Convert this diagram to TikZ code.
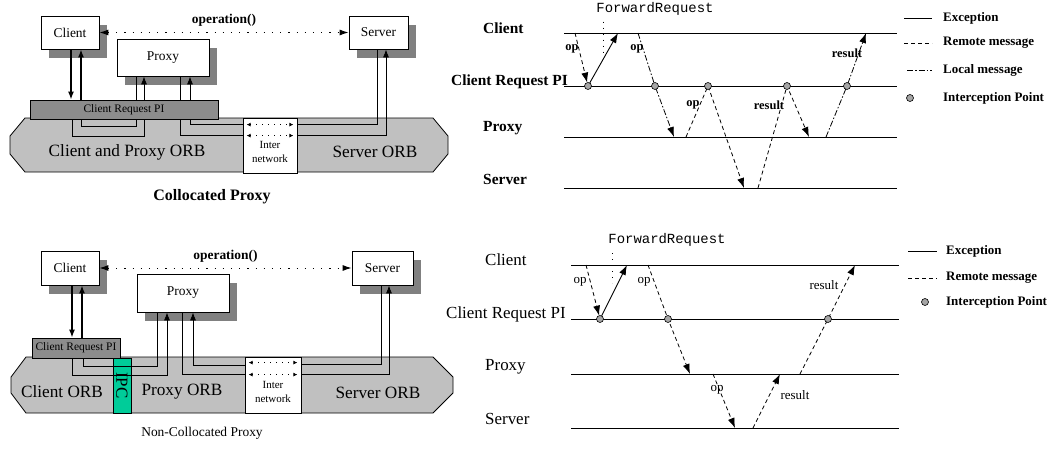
\documentclass[tikz,border=0pt]{standalone}
\usepackage{fontspec}
\setmainfont{Liberation Serif}
\setmonofont{Liberation Mono}
\usetikzlibrary{arrows.meta,shadows}
\definecolor{ipcgreen}{RGB}{0,204,153}
\definecolor{shade}{RGB}{128,128,128}
\definecolor{orbgray}{RGB}{192,192,192}
\definecolor{pigray}{RGB}{140,140,140}
\definecolor{ipgray}{RGB}{165,165,165}

\tikzset{
  box/.style={draw,fill=white,line width=0.8bp,inner sep=0pt,font=\fontsize{13.5}{15}\selectfont,
    drop shadow={shadow xshift=8bp,shadow yshift=-9bp,fill=shade,opacity=1}},
  pibar/.style={draw,fill=pigray,line width=0.8bp,inner sep=0pt,font=\fontsize{11.5}{13}\selectfont},
  orb/.style={draw,fill=orbgray,line width=0.8bp},
  netbox/.style={draw,fill=white,line width=0.8bp,inner sep=0pt},
  ipcbox/.style={draw,fill=ipcgreen,line width=0.8bp,inner sep=0pt,font=\fontsize{17}{19}\selectfont},
  orbtext/.style={font=\fontsize{17.3}{19}\selectfont},
  nettext/.style={align=center,inner sep=0pt,font=\fontsize{11}{14}\selectfont},
  optext/.style={font=\bfseries\fontsize{13.5}{15}\selectfont},
  tip/.style={-{Latex[length=8bp,width=6bp]}},
  seqtip/.style={-{Latex[length=10bp,width=7bp]}},
  link/.style={line width=0.8bp},
  heavy link/.style={line width=1.3bp},
  netarr/.style={{Latex[length=4bp,width=4bp]}-{Latex[length=4bp,width=4bp]},dash pattern=on 1bp off 5bp,line width=0.8bp},
  oparr/.style={{Latex[length=9bp,width=6bp]}-{Latex[length=9bp,width=6bp]},dash pattern=on 1.2bp off 7bp,line width=1bp},
  life/.style={line width=0.9bp},
  remote/.style={dash pattern=on 4bp off 3bp,line width=0.8bp},
  local/.style={dash pattern=on 6bp off 2bp on 1.5bp off 2bp,line width=0.8bp},
  exc/.style={line width=0.9bp},
  fwd/.style={dash pattern=on 1bp off 5bp,line width=0.9bp},
  ipt/.style={circle,draw,fill=ipgray,line width=0.6bp,inner sep=0pt,minimum size=7bp},
  seqname/.style={anchor=base west,inner sep=0pt},
  legtext/.style={anchor=west,inner sep=0pt,font=\bfseries\fontsize{13}{15}\selectfont},
  msgtop/.style={inner sep=0pt,font=\bfseries\fontsize{12.5}{14}\selectfont},
  msgbot/.style={inner sep=0pt,font=\fontsize{13}{15}\selectfont},
  fwdtext/.style={inner sep=0pt,font=\ttfamily\fontsize{14}{16}\selectfont},
}

\begin{document}
\begin{tikzpicture}
\useasboundingbox (0bp,0bp) rectangle (1053bp,-454bp);

% collocated proxy
\draw[orb] (25bp,-118bp) -- (433bp,-118bp) -- (448bp,-136bp) -- (448bp,-154bp) -- (433bp,-172bp) -- (25bp,-172bp) -- (10bp,-154bp) -- (10bp,-136bp) -- cycle;
\node (net1) at (270bp,-145.5bp)[netbox,minimum width=54bp,minimum height=55bp] {};
\node (pi1) at (124bp,-109.5bp)[pibar,minimum width=188bp,minimum height=19bp] {Client Request PI};
\node (client1) at (70bp,-32.5bp)[box,minimum width=58bp,minimum height=33bp] {Client};
\node (proxy1) at (163bp,-57.5bp)[box,minimum width=92bp,minimum height=37bp] {Proxy};
\node (server1) at (378.5bp,-32.5bp)[box,minimum width=59bp,minimum height=33bp] {Server};
\node (orb1a) at (127bp,-152bp)[orbtext] {Client and Proxy ORB};
\node (orb1b) at (375bp,-152bp)[orbtext] {Server ORB};
\node (net1t) at (270bp,-152bp)[nettext] {Inter\\network};
\node (cap1) at (212bp,-197bp)[font=\bfseries\fontsize{16}{18}\selectfont] {Collocated Proxy};
\draw [netarr] ([shift={(4bp,-7bp)}]net1.north west) -- ([shift={(-4bp,-7bp)}]net1.north east);
\draw [netarr] ([shift={(4bp,-18bp)}]net1.north west) -- ([shift={(-4bp,-18bp)}]net1.north east);
\draw [oparr] (client1.east) -- node[above=2bp,optext] {operation()} (server1.west);
\draw [heavy link,tip] (71bp,0 |- client1.south) -- (71bp,0 |- pi1.north);
\draw [heavy link,tip] (81bp,0 |- pi1.north) -- (81bp,0 |- client1.south);
\draw [link] (136bp,0 |- proxy1.south) -- (136bp,0 |- pi1.north);
\draw [link,tip] (144bp,0 |- pi1.north) -- (144bp,0 |- proxy1.south);
\draw [link] (180bp,0 |- proxy1.south) -- (180bp,0 |- pi1.north);
\draw [link,tip] (190bp,0 |- pi1.north) -- (190bp,0 |- proxy1.south);
\draw [link] (72bp,0 |- pi1.south) |- (144bp,-136bp) -- (144bp,0 |- pi1.south);
\draw [link] (81bp,0 |- pi1.south) |- (136bp,-126bp) -- (136bp,0 |- pi1.south);
\draw [link] (180bp,0 |- pi1.south) |- ([yshift=-18bp]net1.north west);
\draw [link] (190bp,0 |- pi1.south) |- ([yshift=-7bp]net1.north west);
\draw [link] ([yshift=-7bp]net1.north east) -| (377bp,0 |- server1.south);
\draw [link,tip] ([yshift=-18bp]net1.north east) -| (386bp,0 |- server1.south);

% non-collocated proxy
\draw[orb] (26bp,-357bp) -- (433bp,-357bp) -- (453bp,-377bp) -- (453bp,-393bp) -- (433bp,-413bp) -- (26bp,-413bp) -- (11bp,-393bp) -- (11bp,-377bp) -- cycle;
\node (net2) at (273bp,-385bp)[netbox,minimum width=56bp,minimum height=56bp] {};
\node (ipc2) at (122bp,-385.5bp)[ipcbox,rotate=-90,minimum width=55bp,minimum height=18bp] {IPC};
\node (pi2) at (76bp,-348bp)[pibar,minimum width=88bp,minimum height=20bp] {Client Request PI};
\node (client2) at (70bp,-268bp)[box,minimum width=58bp,minimum height=34bp] {Client};
\node (proxy2) at (183bp,-293bp)[box,minimum width=92bp,minimum height=38bp] {Proxy};
\node (server2) at (382.5bp,-268bp)[box,minimum width=61bp,minimum height=34bp] {Server};
\node (orb2a) at (62bp,-392bp)[orbtext] {Client ORB};
\node (orb2b) at (182bp,-392bp)[orbtext] {Proxy ORB};
\node (orb2c) at (378bp,-393bp)[orbtext] {Server ORB};
\node (net2t) at (273bp,-392bp)[nettext] {Inter\\network};
\node (cap2) at (202bp,-433bp)[font=\fontsize{13.5}{15}\selectfont] {Non-Collocated Proxy};
\draw [netarr] ([shift={(4bp,-6bp)}]net2.north west) -- ([shift={(-4bp,-6bp)}]net2.north east);
\draw [netarr] ([shift={(4bp,-18bp)}]net2.north west) -- ([shift={(-4bp,-18bp)}]net2.north east);
\draw [oparr] (client2.east) -- node[above=2bp,optext] {operation()} (server2.west);
\draw [heavy link,tip] (72bp,0 |- client2.south) -- (72bp,0 |- pi2.north);
\draw [heavy link,tip] (82bp,0 |- pi2.north) -- (82bp,0 |- client2.south);
\draw [link,tip] (72bp,0 |- pi2.south) |- (167bp,-375bp) -- (167bp,0 |- proxy2.south);
\draw [link] (83bp,0 |- pi2.south) |- (157bp,-366bp) -- (157bp,0 |- proxy2.south);
\draw [link] (182bp,0 |- proxy2.south) |- ([yshift=-18bp]net2.north west);
\draw [link,tip] ([yshift=-9bp]net2.north west) -| (193bp,0 |- proxy2.south);
\draw [link] ([yshift=-8bp]net2.north east) -| (381bp,0 |- server2.south);
\draw [link,tip] ([yshift=-18bp]net2.north east) -| (389bp,0 |- server2.south);

% collocated sequence
\foreach \n/\y in {tc/33,tp/86,tx/137,ts/188}{
  \coordinate (\n0) at (564bp,-\y*1bp);
  \coordinate (\n1) at (897bp,-\y*1bp);
  \draw[life] (\n0) -- (\n1);
}
\node (ltc) at (483bp,-33bp)[seqname,font=\bfseries\fontsize{15.5}{17}\selectfont] {Client};
\node (ltp) at (451bp,-85bp)[seqname,font=\bfseries\fontsize{15.5}{17}\selectfont] {Client Request PI};
\node (ltx) at (483bp,-131bp)[seqname,font=\bfseries\fontsize{15.5}{17}\selectfont] {Proxy};
\node (lts) at (483bp,-184bp)[seqname,font=\bfseries\fontsize{15.5}{17}\selectfont] {Server};
\coordinate (ipa) at (588bp,0 |- tp0);
\coordinate (ipb) at (655bp,0 |- tp0);
\coordinate (ipc) at (708bp,0 |- tp0);
\coordinate (ipd) at (787bp,0 |- tp0);
\coordinate (ipe) at (847bp,0 |- tp0);
\node (fr1) at (655bp,-9bp)[fwdtext] {ForwardRequest};
\draw [fwd] (603bp,0 |- fr1.south) ++(0,-6bp) coordinate (fr1a) -- (603bp,-52bp) coordinate (fr1b);
\draw [remote,seqtip,shorten >=3.5bp] (575bp,0 |- tc0) -- (ipa);
\draw [exc,seqtip,shorten <=3.5bp] (ipa) -- (618bp,0 |- tc0);
\draw [local,seqtip] (638bp,0 |- tc0) -- (ipb) -- (674bp,0 |- tx0);
\draw [remote,seqtip] (686bp,0 |- tx0) -- (ipc) -- (744bp,0 |- ts0);
\draw [remote,seqtip] (758bp,0 |- ts0) -- (ipd) -- (809bp,0 |- tx0);
\draw [local,seqtip] (826bp,0 |- tx0) -- (ipe) -- (866bp,0 |- tc0);
\foreach \c in {ipa,ipb,ipc,ipd,ipe} \node[ipt] at (\c) {};
\node (mt1) at (572bp,-49bp)[msgtop] {op};
\node (mt2) at (637bp,-49bp)[msgtop] {op};
\node (mt3) at (693bp,-105bp)[msgtop] {op};
\node (mt4) at (769bp,-105bp)[msgtop] {result};
\node (mt5) at (847bp,-53bp)[msgtop] {result};

% collocated legend
\node (lg1) at (943bp,-18bp)[legtext] {Exception};
\node (lg2) at (943bp,-43bp)[legtext] {Remote message};
\node (lg3) at (943bp,-70bp)[legtext] {Local message};
\node (lg4) at (943bp,-98bp)[legtext] {Interception Point};
\draw [exc] ([xshift=-39bp]lg1.west) -- ([xshift=-11bp]lg1.west);
\draw [remote] ([xshift=-39bp]lg2.west) -- ([xshift=-11bp]lg2.west);
\draw [local] ([xshift=-36bp]lg3.west) -- ([xshift=-11bp]lg3.west);
\node (lg4c) at ([xshift=-33bp]lg4.west)[ipt] {};

% non-collocated sequence
\foreach \n/\y in {bc/265,bp/319,bx/374,bs/428}{
  \coordinate (\n0) at (571bp,-\y*1bp);
  \coordinate (\n1) at (899bp,-\y*1bp);
  \draw[life] (\n0) -- (\n1);
}
\node (lbc) at (485bp,-265bp)[seqname,font=\fontsize{17}{19}\selectfont] {Client};
\node (lbp) at (446bp,-318bp)[seqname,font=\fontsize{17}{19}\selectfont] {Client Request PI};
\node (lbx) at (485bp,-370bp)[seqname,font=\fontsize{17}{19}\selectfont] {Proxy};
\node (lbs) at (485bp,-424bp)[seqname,font=\fontsize{17}{19}\selectfont] {Server};
\coordinate (ipf) at (600bp,0 |- bp0);
\coordinate (ipg) at (668bp,0 |- bp0);
\coordinate (iph) at (828bp,0 |- bp0);
\node (fr2) at (667bp,-240bp)[fwdtext] {ForwardRequest};
\draw [fwd] (612bp,-253bp) coordinate (fr2a) -- (612bp,-283bp) coordinate (fr2b);
\draw [remote,seqtip,shorten >=3.5bp] (586bp,0 |- bc0) -- (ipf);
\draw [exc,seqtip,shorten <=3.5bp] (ipf) -- (627bp,0 |- bc0);
\draw [remote,seqtip] (648bp,0 |- bc0) -- (ipg) -- (690bp,0 |- bx0);
\draw [remote,seqtip] (713bp,0 |- bx0) -- (735bp,0 |- bs0);
\draw [remote,seqtip] (753bp,0 |- bs0) -- (780bp,0 |- bx0);
\draw [remote,seqtip] (800bp,0 |- bx0) -- (iph) -- (855bp,0 |- bc0);
\foreach \c in {ipf,ipg,iph} \node[ipt] at (\c) {};
\node (mb1) at (580bp,-282bp)[msgbot] {op};
\node (mb2) at (644bp,-282bp)[msgbot] {op};
\node (mb3) at (717bp,-390bp)[msgbot] {op};
\node (mb4) at (795bp,-395bp)[msgbot] {result};
\node (mb5) at (824bp,-285bp)[msgbot] {result};

% non-collocated legend
\node (lg5) at (946bp,-251bp)[legtext] {Exception};
\node (lg6) at (946bp,-278bp)[legtext] {Remote message};
\node (lg7) at (946bp,-302bp)[legtext] {Interception Point};
\draw [exc] ([xshift=-38bp]lg5.west) -- ([xshift=-9bp]lg5.west);
\draw [remote] ([xshift=-38bp]lg6.west) -- ([xshift=-9bp]lg6.west);
\node (lg7c) at ([xshift=-21bp]lg7.west)[ipt] {};
\end{tikzpicture}
\end{document}
